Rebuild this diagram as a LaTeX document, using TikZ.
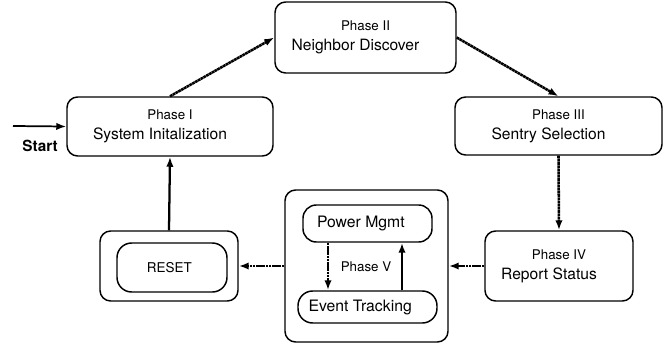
\documentclass[tikz,border=0pt]{standalone}
\usepackage{fontspec}
\setmainfont{TeX Gyre Heros}
\usetikzlibrary{arrows.meta}
\usetikzlibrary{positioning}

% Zweizeiliger Text einer Phase
\newcommand\phasetext[2]{{\fontsize{10}{12}\selectfont #1}\\[3pt]{\fontsize{11.7}{14}\selectfont #2\hspace*{15pt}}}

\begin{document}
\begin{tikzpicture}[x=0.75pt,y=-0.75pt,
    phase/.style={draw,line width=1.1pt,rounded corners=8pt,align=center,inner sep=0pt},
    fluss/.style={-{Latex[length=7.5pt,width=5.5pt]},line width=1.9pt,dash pattern=on 2pt off 0.4pt},
    voll/.style={-{Latex[length=7.5pt,width=5.5pt]},line width=1.7pt}]
    % Einheit: ein Pixel
    \def\p{0.75pt}
    \useasboundingbox (0,0) rectangle (669,347);

    % Phasen
    \node[phase,minimum width=206*\p,minimum height=59*\p] (p1) at (170,126.5) {\phasetext{Phase I}{System Initalization}};
    \node[phase,minimum width=181*\p,minimum height=71*\p] (p2) at (365.5,37.5) {\phasetext{Phase II}{Neighbor Discover}};
    \node[phase,minimum width=207*\p,minimum height=58*\p] (p3) at (558.5,126) {\phasetext{Phase III}{Sentry Selection}};
    \node[phase,minimum width=148*\p,minimum height=70*\p] (p4) at (559,266) {\phasetext{Phase IV}{Report Status}};

    % Phase V mit zwei inneren Kaesten
    \node[phase,minimum width=163*\p,minimum height=152*\p] (p5) at (366.5,266) {};
    \node[phase,rounded corners=10pt,minimum width=129*\p,minimum height=37*\p,font=\fontsize{11.8}{14}\selectfont] (pm) at (367.5,223.5) {Power Mgmt\hspace*{10pt}};
    \node[phase,rounded corners=11pt,minimum width=139*\p,minimum height=32*\p,font=\fontsize{11.8}{14}\selectfont] (et) at (367.5,307) {Event Tracking\hspace*{11pt}};
    \node[font=\fontsize{10}{12}\selectfont] (p5label) at (366,267) {Phase V};

    % Reset
    \node[phase,minimum width=138*\p,minimum height=70*\p] (reset) at (169,266) {};
    \node[phase,rounded corners=11pt,minimum width=110*\p,minimum height=49*\p,font=\fontsize{10.1}{12}\selectfont] (resetin) at (172,267.5) {RESET\hspace*{4pt}};

    % Start
    \coordinate (start) at (13,126);
    \node[font=\bfseries\fontsize{11.5}{14}\selectfont] (startlabel) at (40,146) {Start};

    % Verbindungen
    \draw[voll,line width=1.3pt] (start) -- (p1.west);
    \draw[fluss] (p1.north) -- (p2.west);
    \draw[fluss] (p2.east) -- (p3.north);
    \draw[fluss] (p3.south) -- (p4.north);
    \draw[fluss] (p4.west) -- (p5.east);
    \draw[fluss] (p5.west) -- (reset.east);
    \draw[voll] (reset.north) -- (p1.south);
    \draw[fluss] ([xshift=-39.5*\p]pm.south) -- ([xshift=-39.5*\p]et.north);
    \draw[voll] ([xshift=34.5*\p]et.north) -- ([xshift=34.5*\p]pm.south);
\end{tikzpicture}
\end{document}
